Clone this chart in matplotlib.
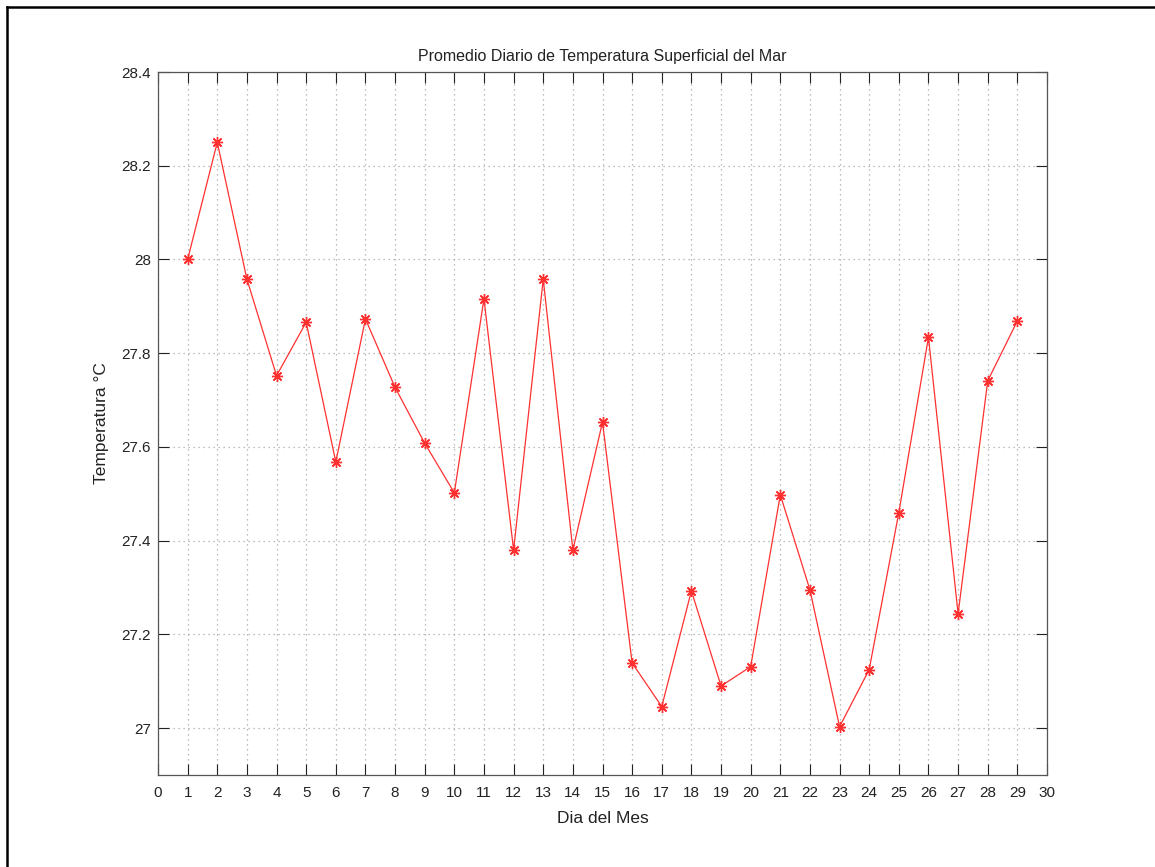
import numpy as np
import matplotlib
matplotlib.use("Agg")
import matplotlib.pyplot as plt
from matplotlib.lines import Line2D

plt.rcParams['font.family'] = ['Liberation Sans', 'DejaVu Sans']

# daily mean sea surface temperature
dias = np.arange(1, 30)
temperatura = [28.00, 28.25, 27.958, 27.752, 27.866, 27.568, 27.873, 27.727,
               27.608, 27.502, 27.916, 27.380, 27.958, 27.380, 27.653, 27.139,
               27.046, 27.293, 27.090, 27.131, 27.498, 27.295, 27.003, 27.125,
               27.460, 27.834, 27.244, 27.741, 27.869]

x_ticks = np.arange(0, 31)
y_ticks = [27, 27.2, 27.4, 27.6, 27.8, 28, 28.2, 28.4]
y_labels = ['27', '27.2', '27.4', '27.6', '27.8', '28', '28.2', '28.4']


def main():
    fig = plt.figure(figsize=(11.55, 8.67), dpi=100)
    fig.patch.set_facecolor('white')
    ax = fig.add_axes([158/1155, 92/867, 889/1155, 703/867])

    ax.plot(dias, temperatura, color='#ff3030', lw=0.9,
            marker=(8, 2, 0), markersize=8, markeredgewidth=1.0,
            markeredgecolor='#ff3030', zorder=3)

    ax.set_xlim(0, 30)
    ax.set_ylim(26.9, 28.4)
    ax.set_xticks(x_ticks)
    ax.set_yticks(y_ticks)
    ax.set_yticklabels(y_labels)
    ax.tick_params(direction='in', length=8, width=0.8, top=True, right=True,
                   labelsize=11, colors='#222222')
    ax.tick_params(axis='x', pad=8)
    ax.tick_params(axis='y', pad=5)
    ax.grid(True, linestyle=(0, (1, 3)), color='#a8a8a8', linewidth=0.9, zorder=1)
    for s in ax.spines.values():
        s.set_color('#555555')
        s.set_linewidth(0.9)

    ax.set_title("Promedio Diario de Temperatura Superficial del Mar",
                 fontsize=11.5, color='#222222', pad=8)
    ax.set_xlabel("Dia del Mes", fontsize=12.5, color='#222222', labelpad=8)
    ax.set_ylabel("Temperatura °C", fontsize=12.5, color='#222222', labelpad=9)

    # frame lines around the captured figure (top and left edges)
    fig.add_artist(Line2D([7/1155, 1.0], [1 - 7/867, 1 - 7/867],
                          transform=fig.transFigure, color='black', lw=1.8))
    fig.add_artist(Line2D([7/1155, 7/1155], [0.0, 1 - 7/867],
                          transform=fig.transFigure, color='black', lw=1.8))

    fig.savefig("out.png", dpi=100, facecolor='white')


if __name__ == "__main__":
    main()
